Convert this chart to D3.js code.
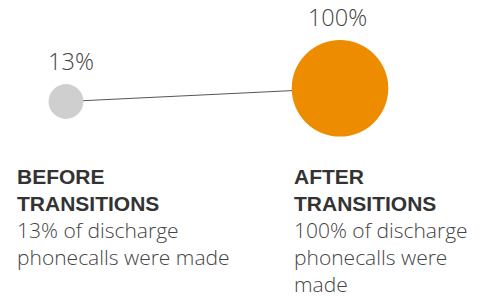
<!DOCTYPE html>
<html lang="en">
<head>
  <meta charset="UTF-8">
  <script src="https://cdn.jsdelivr.net/npm/d3@7"></script>
  <title>Discharge phonecalls</title>
  <style>
    body { margin: 0; background: #fff; }
    .light { font-family: "Open Sans", Roboto, sans-serif; font-weight: 300; }
    .head { font-family: "Liberation Sans", Arial, sans-serif; font-weight: 700; }
  </style>
</head>
<body>
  <svg width="487" height="296"></svg>
  <script>
    var categories = ["BEFORE TRANSITIONS", "AFTER TRANSITIONS"];
    var values = [13, 100];
    var valueLabels = ["13%", "100%"];
    var descriptions = ["13% of discharge phonecalls were made", "100% of discharge phonecalls were made"];
    var colors = ["#cfcfcf", "#ee8c00"];

    var svg = d3.select("svg");
    var width = +svg.attr("width");

    // x position of each column
    var xScale = d3.scalePoint()
      .domain(d3.range(categories.length))
      .range([66, 340]);
    // circle size by area
    var rScale = d3.scaleSqrt()
      .domain([0, 100])
      .range([0, 48.3]);
    // slight rise with value
    var yScale = d3.scaleLinear()
      .domain([0, 100])
      .range([103.5, 88.3]);

    // connecting line
    svg.append("line")
      .attr("x1", xScale(0)).attr("y1", yScale(values[0]))
      .attr("x2", xScale(1)).attr("y2", yScale(values[1]))
      .attr("stroke", "#555")
      .attr("stroke-width", 1);

    var gs = svg.selectAll(".dot")
      .data(values)
      .enter()
      .append("g")

    gs.append("circle")
      .attr("cx", (d, i) => xScale(i))
      .attr("cy", d => yScale(d))
      .attr("r", d => rScale(d))
      .attr("fill", (d, i) => colors[i]);

    gs.append("text")
      .attr("class", "light")
      .attr("x", (d, i) => xScale(i) + (i == 0 ? 5 : -2.5))
      .attr("y", d => yScale(d) - rScale(d) - 14)
      .attr("text-anchor", "middle")
      .attr("font-size", 23.5)
      .attr("fill", "#444")
      .text((d, i) => valueLabels[i]);

    // text blocks under the chart
    var colX = [17, 294];
    var colW = [260, width - 294 - 6];
    var lineH = 27;

    categories.forEach(function (c, i) {
      var t = svg.append("text")
        .attr("x", colX[i])
        .attr("y", 184.3);
      c.split(" ").forEach(function (w, j) {
        t.append("tspan").attr("class", "head")
          .attr("x", colX[i]).attr("dy", j == 0 ? 0 : lineH)
          .attr("font-size", 21).attr("fill", "#333")
          .text(w);
      });

      // word wrap the description
      var words = descriptions[i].split(" ");
      var newLine = () => t.append("tspan").attr("class", "light")
        .attr("x", colX[i]).attr("dy", lineH)
        .attr("font-size", 21).attr("fill", "#444");
      var cur = newLine();
      var line = [];
      words.forEach(function (w) {
        line.push(w);
        cur.text(line.join(" "));
        if (cur.node().getComputedTextLength() > colW[i] && line.length > 1) {
          line.pop();
          cur.text(line.join(" "));
          line = [w];
          cur = newLine().text(w);
        }
      });
    });
  </script>
</body>
</html>
